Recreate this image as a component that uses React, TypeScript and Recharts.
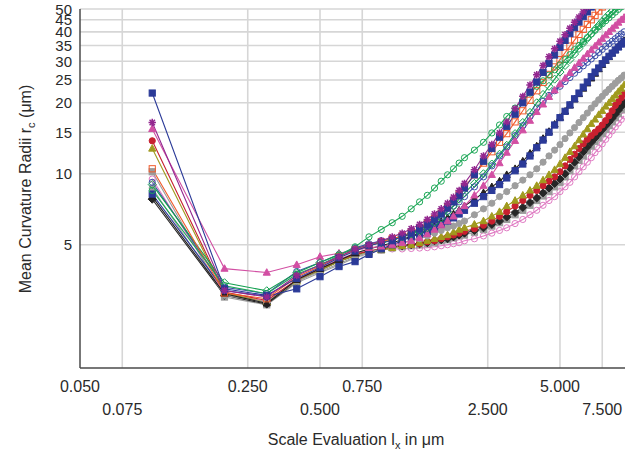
import React from 'react';
import { LineChart, Line, XAxis, YAxis, CartesianGrid } from 'recharts';

// Scale evaluation lx (µm)
const xValues = [0.1,0.2,0.3,0.4,0.5,0.6,0.7,0.8,0.9,1.0,1.1,1.2,1.3,1.4,1.5,1.6,1.7,1.8,1.9,2.0,2.2,2.4,2.6,2.8,3.0,3.25,3.5,3.75,4.0,4.25,4.5,4.75,5.0,5.25,5.5,5.75,6.0,6.25,6.5,6.75,7.0,7.25,7.5,7.75,8.0,8.25,8.5,8.75,9.0,9.25];

// Mean curvature radii rc (µm) per measured surface
const greenCirc = [8.5,3.35,3.1,3.75,4.1,4.5,4.9,5.4,5.8,6.2, 6.6,7.1,7.6,8.1,8.7,9.3,9.9,10.5,11.1,11.7, 12.6,13.6,14.9,16.1,17.5, 19.0,20.6,22.0,23.5,24.8,26.2,27.6,29.0,30.5,32.0,33.6,35.0,36.4,37.8,39.2,40.6,42.0,43.3,44.6,45.9,47.2,48.5,49.8,51.0,52.2];
const purple = [16.5,3.2,3.0,3.7,4.1,4.45,4.8,5.0,5.2,5.4, 5.6,5.85,6.1,6.4,6.75,7.1,7.5,7.95,8.5,9.1, 10.4,11.9,13.3,14.9,16.6, 18.9,21.3,23.8,26.3,28.8,31.4,33.9,36.5,38.9,41.4,43.9,46.2,48.6,51.0, null,null,null,null,null,null,null,null,null,null,null];
const navyA = [22.0,3.25,3.05,3.6,4.0,4.4,4.7,4.95,5.1,5.2, 5.4,5.6,5.85,6.1,6.4,6.75,7.15,7.6,8.1,8.7, 9.9,11.3,12.8,14.3,15.9, 17.9,20.0,22.2,24.5,26.9,29.4,31.9,34.4,36.8,39.3,41.7,44.0,46.4,48.6,51.0, null,null,null,null,null,null,null,null,null,null];
const orange = [10.5,3.12,2.95,3.65,4.05,4.45,4.75,4.95,5.15,5.3, 5.45,5.65,5.9,6.15,6.45,6.8,7.2,7.65,8.2,8.8, 9.9,11.1,12.4,13.6,14.8, 16.6,18.5,20.5,22.5,24.4,26.4,28.4,30.5,32.6,34.8,36.9,39.0,41.0,43.0,45.0,47.0,49.0,51.0, null,null,null,null,null,null,null];
const greenDiam = [9.0,3.45,3.19,3.8,4.2,4.55,4.8,5.0,5.1,5.25, 5.4,5.55,5.7,5.9,6.2,6.5,6.9,7.3,7.8,8.3, 9.1,10.0,11.0,12.1,13.2, 14.8,16.5,18.2,20.0,21.7,23.5,25.2,27.0,28.8,30.5,32.2,34.0,35.8,37.5,39.2,41.0,42.6,44.3,45.9,47.5,49.0,50.5, null,null,null];
const pinkTri = [15.5,3.96,3.81,4.11,4.45,4.6,4.75,4.85,4.92,5.0, 5.1,5.2,5.35,5.55,5.8,6.05,6.3,6.6,6.95,7.3, 8.1,8.9,9.9,11.1,12.3, 13.8,15.3,16.8,18.3,19.7,21.2,22.6,24.0,25.4,26.8,28.2,29.5,30.8,32.2,33.5,34.8,36.1,37.4,38.7,40.0,41.3,42.5,43.8,45.0,46.0];
const blueOpen = [9.2,3.3,3.1,3.85,4.2,4.55,4.85,5.05,5.2,5.3, 5.45,5.6,5.8,6.0,6.3,6.6,6.95,7.3,7.6,8.0, 8.8,9.7,10.8,11.9,13.0, 14.5,16.0,17.5,19.0,20.3,21.5,22.5,23.5,24.6,25.6,26.7,27.7,28.7,29.7,30.7,31.7,32.7,33.7,34.7,35.6,36.5,37.4,38.3,39.2,40.0];
const navyB = [8.2,3.2,3.02,3.25,3.66,4.04,4.24,4.55,4.8,5.0, 5.2,5.4,5.55,5.7,5.9,6.1,6.3,6.5,6.75,7.0, 7.5,8.0,8.5,9.0,9.6, 10.3,11.0,11.9,12.9,13.9,15.0,16.1,17.3,18.4,19.6,20.8,22.0,23.3,24.5,25.8,27.0,28.1,29.3,30.4,31.5,32.5,33.5,34.5,35.5,36.5];
const blackTri = [8.0,3.1,2.82,3.55,3.95,4.3,4.6,4.8,4.95,5.1, 5.25,5.45,5.6,5.8,6.0,6.25,6.5,6.75,7.0,7.3, 7.8,8.3,8.8,9.3,9.9, 10.5,11.3,12.2,13.1,14.1,15.1,16.2,17.3,18.4,19.5,20.7,21.8,23.0,24.2,25.4,26.6,27.8,29.0,30.2,31.3,32.4,33.5,34.6,35.7,36.7];
const grayCirc = [8.7,3.05,2.85,3.5,3.85,4.15,4.45,4.65,4.8,5.0, 5.1,5.2,5.3,5.45,5.6,5.75,5.9,6.0,6.15,6.3, 6.7,7.1,7.5,8.0,8.4, 8.9,9.4,9.9,10.5,11.2,11.9,12.6,13.3,14.1,14.9,15.7,16.5,17.3,18.1,19.0,19.8,20.6,21.3,22.1,22.8,23.5,24.2,24.9,25.5,26.2];
const olive = [12.8,3.12,2.85,3.5,3.9,4.25,4.5,4.65,4.75,4.85, 4.95,5.0,5.1,5.2,5.3,5.4,5.5,5.65,5.8,5.9, 6.1,6.3,6.6,6.9,7.3, 7.7,8.1,8.5,8.9,9.4,9.9,10.4,11.0,11.7,12.4,13.1,13.9,14.7,15.5,16.3,17.0,17.8,18.5,19.3,20.0,20.8,21.5,22.3,23.0,23.8];
const red = [13.8,3.15,2.9,3.55,3.95,4.3,4.55,4.7,4.8,4.9, 4.95,5.0,5.05,5.15,5.2,5.3,5.4,5.5,5.6,5.7, 5.85,6.05,6.3,6.6,6.9, 7.3,7.7,8.1,8.5,8.9,9.3,9.7,10.2,10.8,11.5,12.1,12.8,13.4,14.0,14.5,15.0,15.5,16.1,16.8,17.6,18.5,19.5,20.2,21.0,21.8];
const graySq = [10.2,3.0,2.78,3.45,3.8,4.1,4.4,4.6,4.75,4.85, 4.9,4.95,5.0,5.05,5.1,5.2,5.25,5.35,5.45,5.5, 5.65,5.8,6.0,6.2,6.4, 6.7,7.0,7.35,7.7,8.05,8.4,8.8,9.2,9.7,10.3,10.8,11.4,11.9,12.5,13.1,13.7,14.2,14.8,15.4,16.0,16.6,17.3,18.0,18.7,19.3];
const blackSm = [7.8,3.05,2.8,3.5,3.9,4.25,4.5,4.7,4.8,4.9, 4.95,5.0,5.05,5.1,5.2,5.25,5.3,5.4,5.5,5.6, 5.75,5.9,6.1,6.3,6.55, 6.85,7.2,7.55,7.9,8.3,8.7,9.1,9.5,10.0,10.6,11.2,11.8,12.4,13.0,13.6,14.2,14.8,15.4,16.0,16.6,17.2,17.9,18.6,19.3,20.0];
const pinkOpen = [9.5,3.1,2.88,3.55,4.0,4.35,4.6,4.7,4.75,4.8, 4.8,4.82,4.84,4.86,4.9,4.95,5.0,5.05,5.1,5.2, 5.3,5.45,5.6,5.75,5.9, 6.15,6.4,6.7,7.0,7.35,7.7,8.0,8.4,8.8,9.2,9.7,10.2,10.7,11.2,11.7,12.3,12.8,13.4,14.0,14.6,15.2,15.8,16.4,17.0,17.6];

// Axis ticks
const xMajorTicks = [0.05, 0.075, 0.25, 0.5, 0.75, 2.5, 5, 7.5];
const xTickLabels = ['0.050', '0.075', '0.250', '0.500', '0.750', '2.500', '5.000', '7.500'];
const xMinorTicks = [0.06,0.07,0.08,0.09,0.1,0.2,0.3,0.4,0.6,0.7,0.8,0.9,1,2,3,4,6,7,8,9];
const xGridValues = [0.075, 0.25, 0.5, 0.75, 2.5, 5, 7.5];
const yMajorTicks = [5, 10, 15, 20, 25, 30, 35, 40, 45, 50];
const yMinorTicks = [2,3,4,5,6,7,8,9,10,11,12,13,14,15,16,17,18,19,20,21,22,23,24,25,26,27,28,29,30,31,32,33,34,35,36,37,38,39,40,41,42,43,44,45,46,47,48,49];

const series = [
  { key: 'pinkOpen', values: pinkOpen, color: '#E07BC3', shape: 'circle', filled: false },
  { key: 'graySq', values: graySq, color: '#9A9A9A', shape: 'square', filled: true },
  { key: 'blackSm', values: blackSm, color: '#262626', shape: 'diamond', filled: true },
  { key: 'red', values: red, color: '#C8202F', shape: 'circle', filled: true },
  { key: 'olive', values: olive, color: '#A09A1E', shape: 'triangle', filled: true },
  { key: 'grayCirc', values: grayCirc, color: '#9E9E9E', shape: 'circle', filled: true },
  { key: 'blackTri', values: blackTri, color: '#231F20', shape: 'triangle', filled: true },
  { key: 'navyB', values: navyB, color: '#2B3A98', shape: 'square', filled: true },
  { key: 'blueOpen', values: blueOpen, color: '#3A4DA8', shape: 'circle', filled: false },
  { key: 'pinkTri', values: pinkTri, color: '#D24FA3', shape: 'triangle', filled: true },
  { key: 'greenDiam', values: greenDiam, color: '#12A04F', shape: 'diamond', filled: false },
  { key: 'orange', values: orange, color: '#F15A2B', shape: 'square', filled: false },
  { key: 'greenCirc', values: greenCirc, color: '#1DA757', shape: 'circle', filled: false },
  { key: 'navyA', values: navyA, color: '#2B3A98', shape: 'square', filled: true },
  { key: 'purple', values: purple, color: '#93278F', shape: 'star', filled: true },
];

const data = xValues.map((x, i) => {
  const row: any = { x };
  series.forEach((s) => {
    row[s.key] = s.values[i] == null ? null : s.values[i];
  });
  return row;
});

function marker(shape: string, color: string, filled: boolean, key: string, cx: number, cy: number) {
  const s = 3.1;
  const fill = filled ? color : 'none';
  if (shape === 'square') {
    return <rect key={key} x={cx - s} y={cy - s} width={2 * s} height={2 * s} fill={fill} stroke={color} strokeWidth={1} />;
  }
  if (shape === 'circle') {
    return <circle key={key} cx={cx} cy={cy} r={s} fill={fill} stroke={color} strokeWidth={1} />;
  }
  if (shape === 'triangle') {
    const pts = `${cx},${cy - s * 1.25} ${cx - s * 1.15},${cy + s * 0.85} ${cx + s * 1.15},${cy + s * 0.85}`;
    return <polygon key={key} points={pts} fill={fill} stroke={color} strokeWidth={1} />;
  }
  if (shape === 'diamond') {
    const d = s * 1.3;
    const pts = `${cx},${cy - d} ${cx + d},${cy} ${cx},${cy + d} ${cx - d},${cy}`;
    return <polygon key={key} points={pts} fill={fill} stroke={color} strokeWidth={1} />;
  }
  const r = s * 1.2;
  const q = r * 0.72;
  const p = `M${cx - r},${cy}L${cx + r},${cy}M${cx},${cy - r}L${cx},${cy + r}M${cx - q},${cy - q}L${cx + q},${cy + q}M${cx - q},${cy + q}L${cx + q},${cy - q}`;
  return <path key={key} d={p} stroke={color} strokeWidth={1.5} fill="none" />;
}

const font = "'Liberation Sans', Arial, sans-serif";

const XTick = (props: any) => {
  const { x, y, payload } = props;
  const idx = xMajorTicks.indexOf(payload.value);
  if (idx < 0) return <g />;
  const row = idx % 2;
  return (
    <text x={x} y={y + (row ? 47 : 24)} textAnchor="middle" fontSize={16} fill="#2a2a2a" fontFamily={font}>
      {xTickLabels[idx]}
    </text>
  );
};

const YTick = (props: any) => {
  const { x, y, payload } = props;
  return (
    <text x={x} y={y} dy={5.5} textAnchor="end" fontSize={15} fill="#2a2a2a" fontFamily={font}>
      {payload.value}
    </text>
  );
};

export default function App() {
  return (
    <div style={{ position: 'absolute', left: 0, top: 0, width: 625, height: 455, background: '#fff', overflow: 'hidden' }}>
      <LineChart width={625} height={455} data={data} margin={{ top: 9, right: 0, left: 0, bottom: 0 }}>
        <CartesianGrid
          xAxisId="x"
          yAxisId="y"
          horizontalValues={yMajorTicks}
          verticalValues={xGridValues}
          stroke="#d6d6d6"
          strokeWidth={1.6}
        />
        <XAxis
          xAxisId="x"
          dataKey="x"
          type="number"
          scale="log"
          domain={[0.05, 9.33]}
          allowDataOverflow
          ticks={xMajorTicks}
          interval={0}
          height={87}
          tickSize={0}
          tickMargin={0}
          tickLine={false}
          tick={<XTick />}
          axisLine={{ stroke: '#4a4a4a', strokeWidth: 1.5 }}
        />
        <XAxis
          xAxisId="xm"
          dataKey="x"
          type="number"
          scale="log"
          domain={[0.05, 9.33]}
          allowDataOverflow
          ticks={xMinorTicks}
          interval={0}
          height={0}
          mirror
          tick={false}
          tickSize={4}
          tickLine={{ stroke: '#4a4a4a' }}
          axisLine={false}
        />
        <XAxis
          xAxisId="xt"
          orientation="top"
          dataKey="x"
          type="number"
          scale="log"
          domain={[0.05, 9.33]}
          allowDataOverflow
          height={0}
          tick={false}
          tickLine={false}
          axisLine={{ stroke: '#4a4a4a', strokeWidth: 1.5 }}
        />
        <YAxis
          yAxisId="y"
          type="number"
          scale="log"
          domain={[1.5, 50]}
          allowDataOverflow
          ticks={yMajorTicks}
          interval={0}
          width={80}
          tickSize={0}
          tickMargin={8}
          tickLine={false}
          tick={<YTick />}
          axisLine={{ stroke: '#4a4a4a', strokeWidth: 1.5 }}
        />
        <YAxis
          yAxisId="ym"
          type="number"
          scale="log"
          domain={[1.5, 50]}
          allowDataOverflow
          ticks={yMinorTicks}
          interval={0}
          width={0}
          mirror
          tick={false}
          tickSize={3}
          tickLine={{ stroke: '#4a4a4a' }}
          axisLine={false}
        />
        {series.map((s) => (
          <Line
            key={s.key}
            xAxisId="x"
            yAxisId="y"
            type="linear"
            dataKey={s.key}
            stroke={s.color}
            strokeWidth={1.1}
            isAnimationActive={false}
            activeDot={false}
            connectNulls={false}
            dot={(p: any) => {
              const k = `${s.key}-${p.index}`;
              if (p.cy == null || p.value == null || isNaN(p.cy)) return <g key={k} />;
              return marker(s.shape, s.color, s.filled, k, p.cx, p.cy);
            }}
          />
        ))}
      </LineChart>
      <div
        style={{
          position: 'absolute',
          left: 26,
          top: 189,
          transform: 'translate(-50%, -50%) rotate(-90deg)',
          whiteSpace: 'nowrap',
          fontFamily: font,
          fontSize: 16,
          color: '#2a2a2a',
          lineHeight: '18px',
        }}
      >
        Mean Curvature Radii r<span style={{ fontSize: 11, position: 'relative', top: 4 }}>c</span> (μm)
      </div>
      <div
        style={{
          position: 'absolute',
          left: 356,
          top: 440,
          transform: 'translate(-50%, -50%)',
          whiteSpace: 'nowrap',
          fontFamily: font,
          fontSize: 16,
          color: '#2a2a2a',
          lineHeight: '18px',
        }}
      >
        Scale Evaluation l<span style={{ fontSize: 11, position: 'relative', top: 4 }}>x</span> in μm
      </div>
    </div>
  );
}
